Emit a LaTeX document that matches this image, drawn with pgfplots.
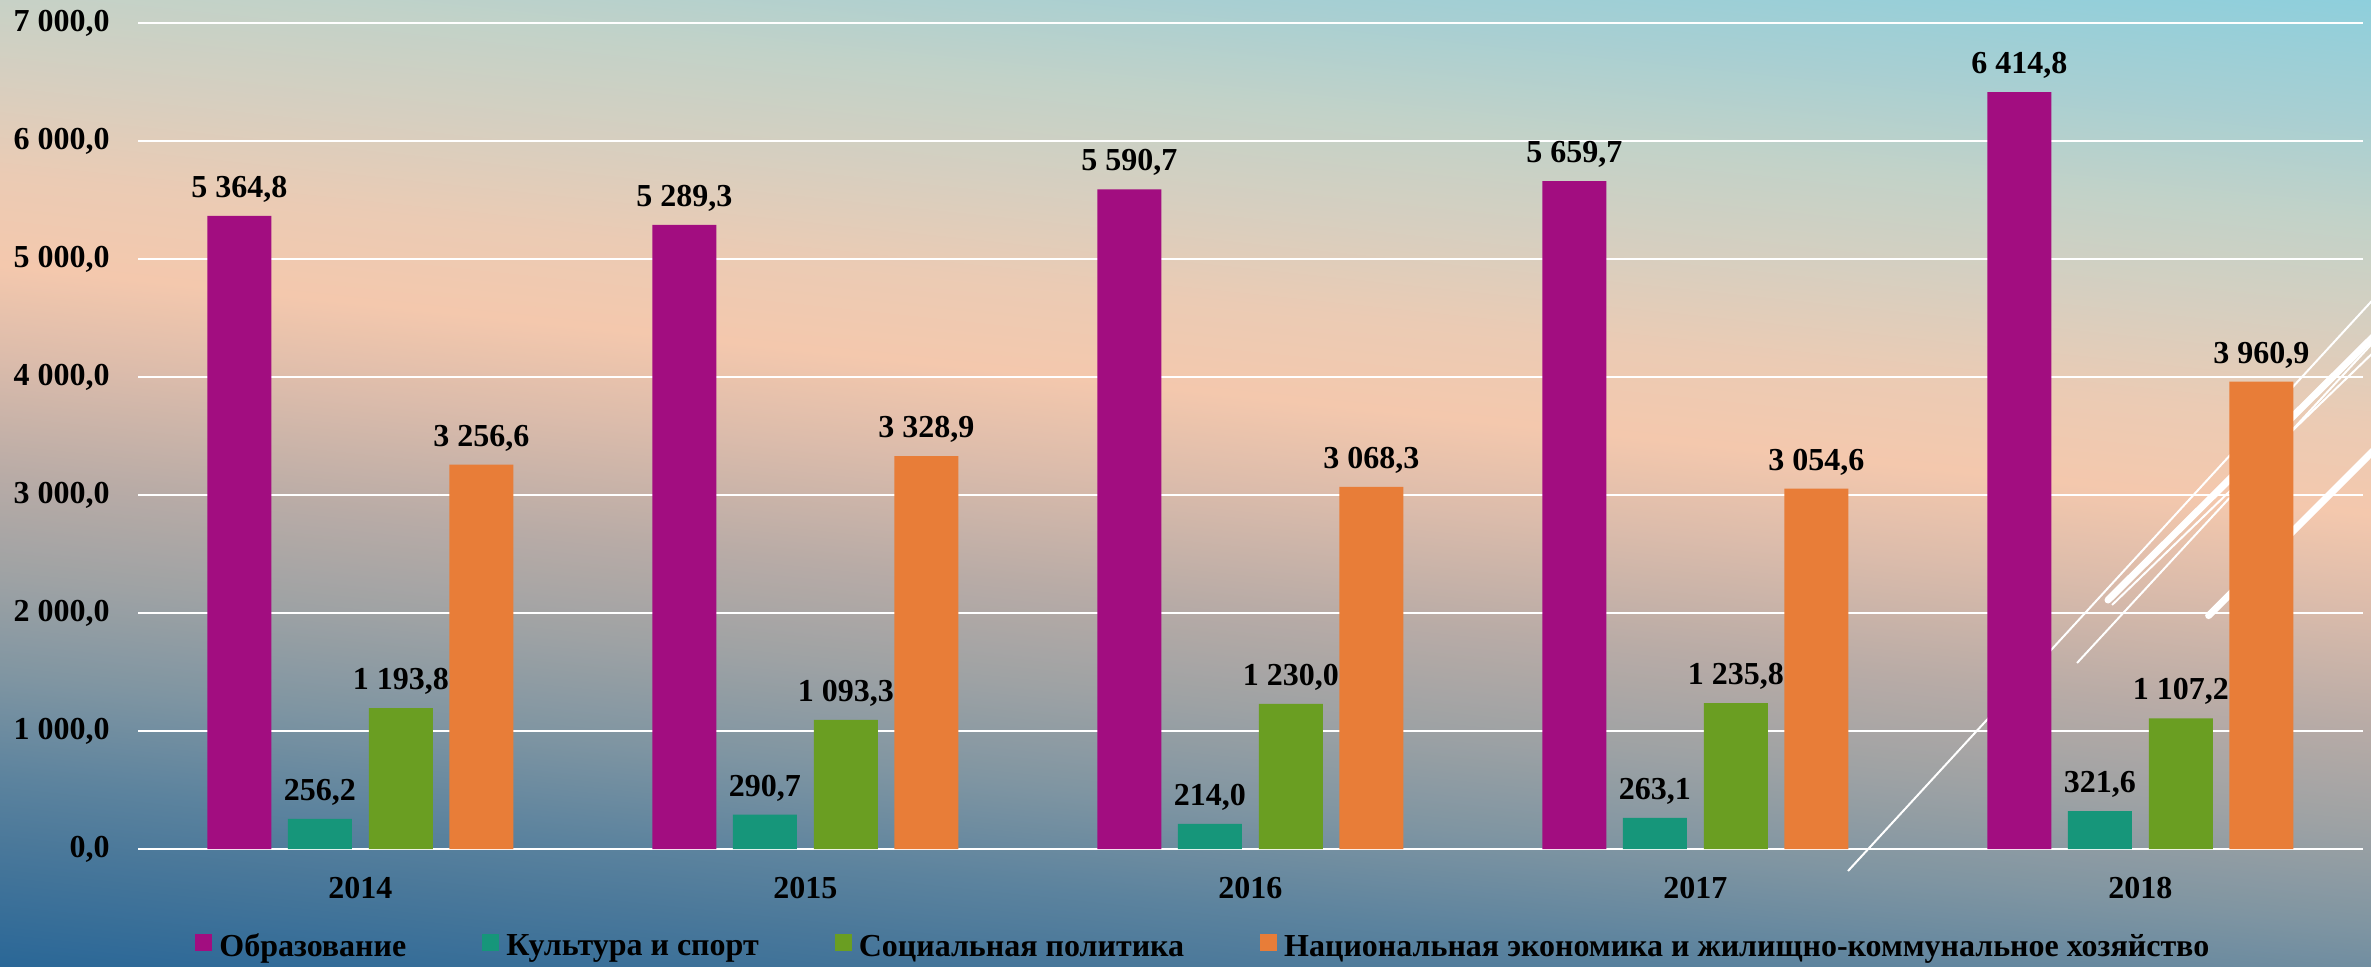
\documentclass[border=0pt]{standalone}
\usepackage{fontspec}
\setmainfont{Liberation Serif}
\usepackage{pgfplots}
\pgfplotsset{compat=1.18}

\definecolor{cEdu}{HTML}{A20D80}
\definecolor{cCult}{HTML}{16967A}
\definecolor{cSoc}{HTML}{6A9E22}
\definecolor{cEco}{HTML}{E87D38}

% background stops, bottom to top
\definecolor{s0}{HTML}{276596}
\definecolor{s1}{HTML}{2A6797}
\definecolor{s2}{HTML}{4A789A}
\definecolor{s3}{HTML}{5C839E}
\definecolor{s4}{HTML}{7F95A2}
\definecolor{s5}{HTML}{9EA2A4}
\definecolor{s6}{HTML}{B8ABA6}
\definecolor{s7}{HTML}{DCBCAB}
\definecolor{s8}{HTML}{F4C8AD}
\definecolor{s9}{HTML}{EBCBB4}
\definecolor{s10}{HTML}{D6CFC0}
\definecolor{s11}{HTML}{C2D2C8}
\definecolor{s12}{HTML}{A8CFD2}
\definecolor{s13}{HTML}{8ECFDC}
\pgfdeclareverticalshading{bgshade}{100bp}{%
  color(0bp)=(s0); color(25bp)=(s0); color(25.645bp)=(s1);
  color(30.524bp)=(s2); color(33.185bp)=(s3); color(37.218bp)=(s4);
  color(41.25bp)=(s5); color(45.282bp)=(s6); color(50.121bp)=(s7);
  color(53.75bp)=(s8); color(57.379bp)=(s9); color(61.411bp)=(s10);
  color(65.444bp)=(s11); color(69.476bp)=(s12); color(74.355bp)=(s13);
  color(100bp)=(s13)}

\newcommand{\lblfont}{\fontsize{16}{19}\selectfont\bfseries}

\begin{document}
\begin{tikzpicture}
\useasboundingbox (0,0) rectangle (1185.5pt,483pt);

% background
\begin{scope}
\clip (0,0) rectangle (1185.5pt,483pt);
\begin{scope}[transform canvas={rotate around={-6:(592.75pt,241.5pt)}}]
\shade[shading=bgshade] (-107.25pt,-68.5pt) rectangle (1292.75pt,551.5pt);
\end{scope}
\draw[white, line width=1pt] (924pt,47.5pt) -- (1190pt,337pt);
\draw[white, line width=1pt] (1038.5pt,151.5pt) -- (1190pt,315.5pt);
\draw[white, line width=1pt] (1056pt,180.5pt) -- (1190pt,310pt);
\draw[white, line width=3.5pt, line cap=round] (1054pt,183pt) -- (1190pt,318pt);
\draw[white, line width=3.5pt, line cap=round] (1104.3pt,175.2pt) -- (1190pt,261pt);
\end{scope}

\begin{axis}[
  at={(69pt,58.5pt)}, anchor=south west,
  scale only axis, width=1112.5pt, height=413pt,
  xmin=-0.5, xmax=4.5, ymin=0, ymax=7000,
  xtick={0,1,2,3,4},
  xticklabels={2014,2015,2016,2017,2018},
  ytick={0,1000,2000,3000,4000,5000,6000,7000},
  scaled y ticks=false,
  axis line style={draw=none},
  major tick length=0pt,
  ymajorgrids,
  grid style={white, line width=1pt},
  clip=false,
  ybar,
  bar width=32pt,
  /pgf/number format/fixed,
  /pgf/number format/fixed zerofill,
  /pgf/number format/precision=1,
  /pgf/number format/use comma,
  /pgf/number format/1000 sep={\ },
  /pgf/number format/assume math mode=true,
  yticklabel style={font=\lblfont, inner sep=0pt, anchor=east, xshift=-14pt},
  xticklabel style={font=\lblfont, inner sep=0pt, anchor=north, yshift=-14pt},
  nodes near coords,
  every node near coord/.append style={font=\lblfont, inner sep=0pt,
    text depth=0pt, anchor=south, yshift=9pt},
  every axis plot post/.append style={
    legend image code/.code={\fill[##1] (0pt,-2pt) rectangle (8.5pt,6.5pt);}},
  legend columns=4,
  legend style={draw=none, fill=none, inner sep=0pt,
    at={(axis description cs:0.0256,-0.1186)}, anchor=west,
    font=\lblfont, cells={anchor=west},
    /tikz/every odd column/.append style={column sep=1.5pt},
    /tikz/every even column/.append style={column sep=36pt}},
]
\addplot[fill=cEdu, draw=none, bar shift=-60.5pt] coordinates {
  (0,5364.8) (1,5289.3) (2,5590.7) (3,5659.7) (4,6414.8)};
\addplot[fill=cCult, draw=none, bar shift=-20.25pt] coordinates {
  (0,256.2) (1,290.7) (2,214.0) (3,263.1) (4,321.6)};
\addplot[fill=cSoc, draw=none, bar shift=20.25pt] coordinates {
  (0,1193.8) (1,1093.3) (2,1230.0) (3,1235.8) (4,1107.2)};
\addplot[fill=cEco, draw=none, bar shift=60.5pt] coordinates {
  (0,3256.6) (1,3328.9) (2,3068.3) (3,3054.6) (4,3960.9)};
\legend{Образование, Культура и спорт, Социальная политика,
  Национальная экономика и жилищно-коммунальное хозяйство}
\end{axis}
\end{tikzpicture}
\end{document}
